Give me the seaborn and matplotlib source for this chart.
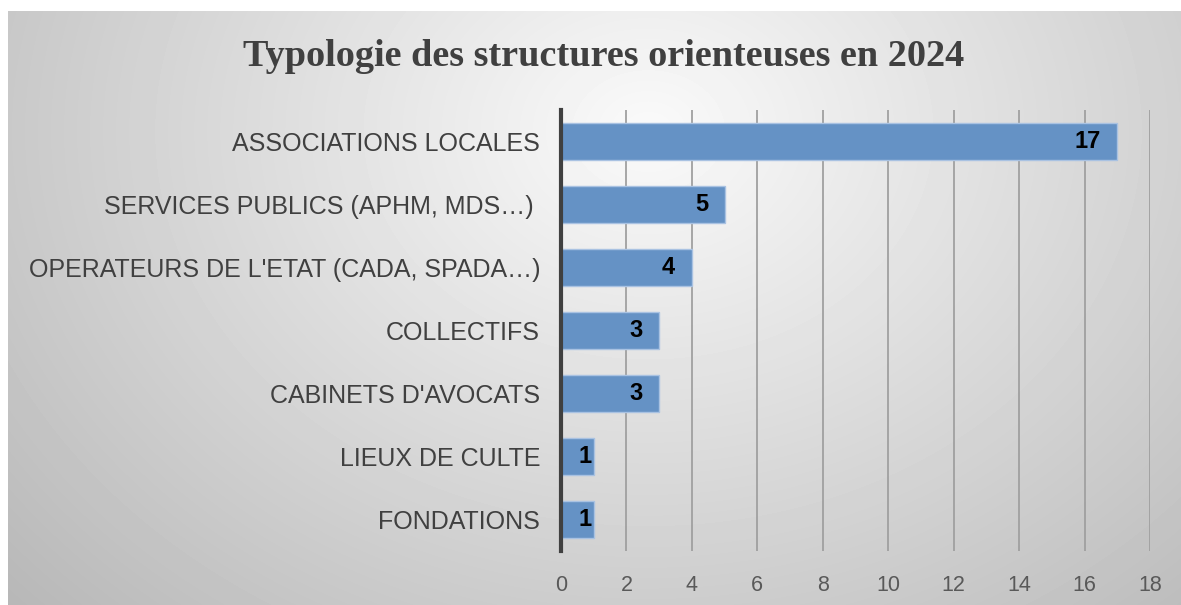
import matplotlib
matplotlib.use("Agg")
import matplotlib.pyplot as plt
import numpy as np
import pandas as pd
import seaborn as sns

categories = [
    "ASSOCIATIONS LOCALES",
    "SERVICES PUBLICS (APHM, MDS…) ",
    "OPERATEURS DE L'ETAT (CADA, SPADA…)",
    "COLLECTIFS",
    "CABINETS D'AVOCATS",
    "LIEUX DE CULTE",
    "FONDATIONS",
]
counts = [17, 5, 4, 3, 3, 1, 1]
x_ticks = list(range(0, 20, 2))
title = "Typologie des structures orienteuses en 2024"

sns.set_theme(style="white")
plt.rcParams["font.family"] = ["Liberation Sans", "DejaVu Sans"]

W, H = 1181, 605
fig = plt.figure(figsize=(W / 100, H / 100), dpi=100)
fig.patch.set_facecolor("white")

# radial grey gradient background
bg = fig.add_axes([8 / W, 0, 1 - 8 / W, 1 - 11 / H])
yy, xx = np.mgrid[0:594, 0:1173]
d = np.sqrt(((xx - 640) / 1000.0) ** 2 + ((yy - 120) / 800.0) ** 2)
grad = np.clip(0.98 - 0.30 * d, 0, 1)
bg.imshow(grad, cmap="gray", vmin=0, vmax=1, aspect="auto", interpolation="bilinear")
bg.axis("off")

ax = fig.add_axes([561 / W, 1 - 551 / H, (1150 - 561) / W, (551 - 110) / H])
ax.patch.set_alpha(0)

df = pd.DataFrame({"cat": categories, "n": counts})
sns.barplot(data=df, y="cat", x="n", orient="h", color="#6592c5", width=0.58,
            edgecolor="#a9c2e2", linewidth=1.0, saturation=1, ax=ax, zorder=3)

# Excel-style "inside end" labels; tiny bars get the label nearly at the edge
for i, v in enumerate(counts):
    off = -12 if v >= 2 else -1.5
    ax.annotate(str(v), xy=(v, i), xytext=(off, 0), textcoords="offset points",
                ha="right", va="center", fontsize=17, fontweight="bold",
                color="black", zorder=4)

ax.set_xlim(0, 18)
ax.set_ylim(6.5, -0.5)
ax.set_xticks(x_ticks)
ax.xaxis.grid(True, color="#a0a0a0", linewidth=1.3, zorder=0)
ax.set_axisbelow(True)
ax.tick_params(axis="x", length=0, pad=17, labelsize=15.5, labelcolor="#595959")
ax.tick_params(axis="y", length=0, pad=15, labelsize=18, labelcolor="#404040")
ax.set_xlabel("")
ax.set_ylabel("")
for s in ["top", "right", "bottom"]:
    ax.spines[s].set_visible(False)
ax.spines["left"].set_color("#404040")
ax.spines["left"].set_linewidth(3)
ax.spines["left"].set_zorder(5)

fig.text(604 / W, 1 - 57 / H, title, ha="center", va="center",
         fontsize=27.5, fontweight="bold", color="#404040",
         family=["Liberation Serif", "DejaVu Serif"])

fig.savefig("out.png", dpi=100)
